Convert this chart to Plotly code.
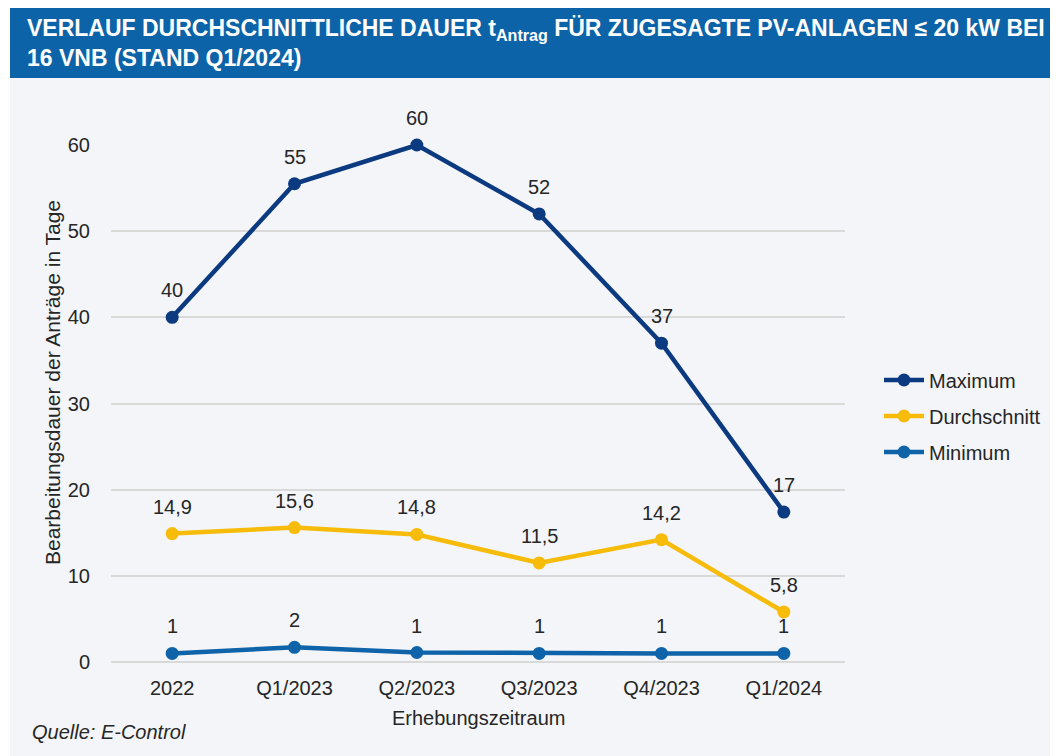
import plotly.graph_objects as go

categories = ["2022", "Q1/2023", "Q2/2023", "Q3/2023", "Q4/2023", "Q1/2024"]
max_vals = [40, 55.5, 60, 52, 37, 17.4]
max_labels = ["40", "55", "60", "52", "37", "17"]
avg_vals = [14.9, 15.6, 14.8, 11.5, 14.2, 5.8]
avg_labels = ["14,9", "15,6", "14,8", "11,5", "14,2", "5,8"]
min_vals = [1, 1.7, 1.1, 1, 1, 1]
min_labels = ["1", "2", "1", "1", "1", "1"]
y_ticks = [0, 10, 20, 30, 40, 50, 60]

# page body margin of 8px -> figure placed at (8, 8)
OFF = 8
W, H = 1058 - OFF, 756 - OFF
ML, MR, MT, MB = 103, 213, 137, 94
PW, PH = W - ML - MR, H - MT - MB


def px_x(sx):
    return (sx - OFF - ML) / PW


def px_y(sy):
    return (H - MB - (sy - OFF)) / PH


FONT = "Liberation Sans, Arial, sans-serif"
TXT = "#262626"
BG = "#f3f5f9"

series = [
    ("Maximum", max_vals, max_labels, "#0c3a80"),
    ("Durchschnitt", avg_vals, avg_labels, "#f7bb0a"),
    ("Minimum", min_vals, min_labels, "#0f63a8"),
]

fig = go.Figure()
annotations = []
for name, vals, labels, color in series:
    fig.add_trace(go.Scatter(
        x=categories, y=vals, name=name, mode="lines+markers",
        line=dict(color=color, width=4.5),
        marker=dict(color=color, size=13),
        cliponaxis=False, legendgroup=name, hoverinfo="skip",
    ))
    for idx, (v, t) in enumerate(zip(vals, labels)):
        annotations.append(dict(
            x=idx, y=v, xref="x", yref="y", text=t, showarrow=False,
            yshift=27, font=dict(family=FONT, size=20, color=TXT),
        ))

# title banner
annotations.append(dict(
    xref="paper", yref="paper", x=px_x(25), y=px_y(13),
    xanchor="left", yanchor="top", align="left", showarrow=False,
    text="<b>VERLAUF DURCHSCHNITTLICHE DAUER t<sub>Antrag</sub> FÜR ZUGESAGTE PV-ANLAGEN ≤ 20 kW BEI<br>16 VNB (STAND Q1/2024)</b>",
    font=dict(family=FONT, size=23, color="white"),
))
# axis titles
annotations.append(dict(
    xref="paper", yref="paper", x=px_x(52), y=px_y(383), textangle=-90,
    xanchor="center", yanchor="middle", showarrow=False,
    text="Bearbeitungsdauer der Anträge in Tage",
    font=dict(family=FONT, size=21, color=TXT),
))
annotations.append(dict(
    xref="paper", yref="paper", x=px_x(478), y=px_y(718),
    xanchor="center", yanchor="middle", showarrow=False,
    text="Erhebungszeitraum",
    font=dict(family=FONT, size=20, color=TXT),
))
annotations.append(dict(
    xref="paper", yref="paper", x=px_x(30), y=px_y(732),
    xanchor="left", yanchor="middle", showarrow=False,
    text="<i>Quelle: E-Control</i>",
    font=dict(family=FONT, size=20, color=TXT),
))

shapes = [
    dict(type="rect", xref="paper", yref="paper", layer="below",
         x0=px_x(10), x1=px_x(1070), y0=px_y(770), y1=px_y(8),
         fillcolor=BG, line=dict(width=0)),
    dict(type="rect", xref="paper", yref="paper", layer="below",
         x0=px_x(10), x1=px_x(1070), y0=px_y(78), y1=px_y(8),
         fillcolor="#0c63a8", line=dict(width=0)),
]

fig.update_layout(
    width=W, height=H,
    margin=dict(l=ML, r=MR, t=MT, b=MB),
    paper_bgcolor="white", plot_bgcolor=BG,
    font=dict(family=FONT, size=20, color=TXT),
    showlegend=True,
    legend=dict(
        x=px_x(879), y=px_y(416), xanchor="left", yanchor="middle",
        bgcolor="rgba(0,0,0,0)", font=dict(family=FONT, size=20, color=TXT),
        tracegroupgap=7, itemwidth=40,
    ),
    annotations=annotations, shapes=shapes,
    xaxis=dict(
        type="category", range=[-0.5, 5.5], showgrid=False, showline=False,
        zeroline=False, ticks="outside", ticklen=8, tickcolor="rgba(0,0,0,0)",
        tickfont=dict(family=FONT, size=20, color=TXT), fixedrange=True,
    ),
    yaxis=dict(
        range=[0, 60], tickvals=y_ticks, showgrid=True, gridcolor="#d9d9d9",
        gridwidth=1.5, zeroline=True, zerolinecolor="#d9d9d9", zerolinewidth=1.5,
        showline=False, ticks="outside", ticklen=16, tickcolor="rgba(0,0,0,0)",
        tickfont=dict(family=FONT, size=20, color=TXT), fixedrange=True,
    ),
)

fig.write_html("out.html")
